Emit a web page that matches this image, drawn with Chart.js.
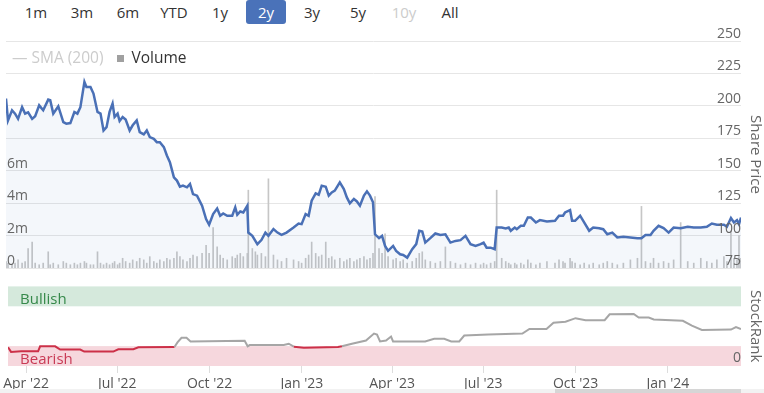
<!DOCTYPE html>
<html>
<head>
<meta charset="utf-8">
<script src="https://cdn.jsdelivr.net/npm/chart.js"></script>
<style>
  html, body { margin: 0; padding: 0; background: #fff; }
  body { width: 764px; height: 393px; position: relative; overflow: hidden; font-family: 'Open Sans', sans-serif; }
  #range { position: absolute; top: 0; left: 16px; display: flex; gap: 6px; }
  #range span { width: 40px; height: 24px; line-height: 24px; text-align: center; font-size: 15px; color: #333; border-radius: 3px; }
  #range span.on { background: #4a72b9; color: #fff; }
  #range span.off { color: #ccc; }
  #legend { position: absolute; top: 48px; left: 12px; font-size: 15.5px; line-height: 18px; white-space: nowrap; }
  #legend .sma { color: #ccc; }
  #legend .sq { display: inline-block; width: 7px; height: 7px; background: #a0a0a0; margin: 0 8px 0 13px; vertical-align: 1px; }
  #legend .vol { color: #333; }
  canvas { position: absolute; left: 0; }
  #priceChart { top: 28px; }
  #rankChart { top: 278px; }
  #scroll { position: absolute; left: 0; top: 389px; width: 764px; height: 4px; background: #f2f2f2; }
  #thumb { position: absolute; left: 555px; top: 389px; width: 186px; height: 4px; background: #d6d6d6; }
</style>
</head>
<body>
<div id="range">
  <span>1m</span><span>3m</span><span>6m</span><span>YTD</span><span>1y</span><span class="on">2y</span><span>3y</span><span>5y</span><span class="off">10y</span><span>All</span>
</div>
<canvas id="priceChart" width="764" height="250"></canvas>
<canvas id="rankChart" width="764" height="115"></canvas>
<div id="legend"><span class="sma">— SMA (200)</span><span class="sq"></span><span class="vol">Volume</span></div>
<div id="scroll"></div><div id="thumb"></div>
<script>
// days counted from the first day shown
const startDate = '2022-03-14';
const endDay = 731;

const tickDates = ['2022-04-01', '2022-07-01', '2022-10-01', '2023-01-01', '2023-04-01', '2023-07-01', '2023-10-01', '2024-01-01'];
const tickLabels = ["Apr '22", "Jul '22", "Oct '22", "Jan '23", "Apr '23", "Jul '23", "Oct '23", "Jan '24"];

const tradingDay = [0, 2, 6, 9, 12, 16, 19, 22, 26, 29, 33, 37, 42, 44, 47, 52, 57, 60, 64, 68,
  71, 74, 78, 80, 84, 87, 91, 94, 97, 100, 103, 106, 108, 111, 113, 116, 119, 123, 126, 130,
  133, 137, 140, 143, 147, 150, 153, 157, 160, 163, 167, 170, 173, 176, 180, 183, 186, 190, 195, 199,
  202, 206, 210, 213, 216, 220, 225, 228, 230, 233, 236, 240, 241, 245, 248, 250, 254, 258, 261, 266,
  270, 274, 279, 286, 291, 294, 298, 301, 304, 308, 311, 314, 318, 321, 324, 327, 332, 336, 339, 342,
  346, 349, 352, 356, 359, 362, 365, 367, 371, 374, 377, 380, 385, 388, 392, 395, 399, 404, 408, 411,
  414, 417, 422, 427, 432, 437, 442, 447, 452, 457, 462, 467, 472, 475, 478, 482, 486, 488, 493, 497,
  500, 502, 506, 508, 512, 515, 519, 522, 527, 531, 538, 546, 550, 554, 556, 561, 563, 566, 571, 575,
  580, 584, 590, 594, 598, 603, 608, 614, 621, 628, 632, 636, 641, 644, 649, 654, 659, 664, 671, 678,
  684, 691, 697, 702, 707, 714, 717, 721, 724, 727, 729, 731];

const sharePrice = [205.6, 188.8, 196.6, 194, 190, 199, 194, 195, 190, 192, 200.4, 196.6, 204.8, 204.3, 194, 199.7, 187.5, 186.3, 186.7, 195.3,
  194, 199, 218.5, 214.6, 214.6, 209.5, 195.3, 194, 181, 183.6, 195.3, 201.8, 191.4, 194, 188.3, 191.4, 189.4, 181, 185, 188.8,
  179.8, 178, 181, 175.9, 174.6, 172, 172, 168.2, 161.7, 156.6, 144.9, 142.4, 137.7, 138.5, 137.2, 139.8, 132, 130.8, 123, 112.7,
  108.3, 116.6, 120.9, 115.3, 117, 115.3, 115.3, 121.7, 116, 118.6, 117.8, 123, 102.3, 99.8, 95.9, 93.4, 96.5, 102.3, 99.8, 105,
  102.3, 100.5, 102.3, 106.2, 109.3, 108.8, 116.6, 115.3, 126.9, 132.5, 131.5, 138.5, 137.7, 130.8, 133.3, 134.6, 141, 135.9, 129.4, 124.8,
  128.2, 126.3, 123, 130.8, 134.1, 130.8, 125.6, 101, 98, 99.8, 92, 88.2, 92, 88.2, 85.6, 85, 83, 89.5, 93.4, 103.7,
  103.1, 94.6, 98, 101.6, 100.5, 101, 94.6, 95.9, 96.5, 99.8, 93.4, 92, 93.4, 94.6, 90.7, 90.7, 89.5, 106.2, 106.2, 105.5,
  106.2, 103.7, 106.2, 104.9, 107.5, 107.5, 113.9, 113.9, 110.1, 111.9, 110.9, 111.4, 115.3, 115.3, 117.8, 119.7, 111.4, 111.4, 115.3, 110.1,
  103.7, 106.2, 105.7, 104.9, 101, 102.3, 98.5, 99, 98.5, 98, 98, 100.5, 100.5, 103.7, 107.5, 105.7, 102.3, 106.2, 105.7, 106.8,
  106.2, 106.2, 106.8, 109.3, 108.3, 108.3, 106.8, 113.5, 110.1, 111.9, 108.8, 113.9];

// volume in millions
const volumeM = [0.4, 0.3, 0.2, 0.3, 0.5, 0.3, 0.4, 1.2, 1.6, 0.3,
  0.2, 0.3, 1.0, 0.2, 0.3, 0.2, 0.4, 0.3, 0.2, 0.3,
  0.2, 0.3, 0.4, 0.3, 0.2, 0.2, 1.0, 0.3, 0.2, 0.3,
  0.2, 0.3, 0.4, 0.2, 0.3, 0.6, 0.4, 0.3, 0.5, 0.4,
  0.6, 0.5, 0.3, 0.7, 0.4, 0.3, 0.5, 0.4, 0.6, 0.5,
  0.6, 1.0, 0.7, 0.5, 0.4, 0.6, 0.8, 0.7, 0.9, 1.4,
  0.9, 2.5, 1.3, 0.8, 0.6, 0.5, 0.7, 0.6, 0.8, 0.9,
  0.7, 0.9, 4.8, 1.2, 1.0, 0.8, 0.9, 0.7, 5.5, 0.8,
  0.5, 0.4, 0.6, 0.5, 0.4, 0.3, 0.6, 0.8, 1.6, 0.9,
  0.7, 0.8, 1.6, 0.6, 0.7, 0.5, 0.6, 0.4, 0.5, 0.6,
  0.4, 0.5, 0.6, 0.7, 0.5, 0.6, 0.9, 4.4, 1.2, 0.9,
  2.1, 0.7, 0.5, 0.6, 0.4, 0.5, 0.3, 0.4, 0.6, 0.9,
  1.0, 0.5, 0.4, 0.3, 0.4, 1.3, 0.4, 0.3, 0.2, 0.3,
  0.2, 0.3, 0.2, 0.3, 0.2, 0.3, 0.4, 4.8, 0.6, 0.4,
  0.3, 0.2, 0.3, 0.2, 0.3, 0.2, 0.5, 0.3, 0.2, 0.3,
  0.4, 0.3, 0.5, 0.4, 0.3, 0.6, 0.4, 0.3, 0.2, 0.3,
  0.2, 0.3, 0.2, 0.3, 0.4, 0.3, 0.2, 0.3, 0.5, 0.6,
  3.8, 0.4, 0.3, 0.6, 0.3, 0.4, 0.3, 0.5, 2.8, 0.4,
  0.3, 0.6, 0.4, 0.3, 0.5, 0.7, 0.4, 2.3, 0.6, 0.5,
  2.0, 0.6];

const rankDay = [0, 3, 13, 30, 32, 47, 52, 72, 76, 105, 110, 125, 130, 166, 169, 173, 178, 182, 236, 239,
  241, 275, 280, 285, 295, 329, 333, 343, 357, 365, 368, 371, 377, 382, 384, 416, 425, 435, 442, 450,
  455, 479, 513, 520, 537, 544, 556, 566, 576, 595, 600, 624, 629, 639, 644, 673, 682, 692, 721, 726, 731];
const stockRank = [23.5, 17.7, 18.5, 18.5, 24.7, 24.7, 20.6, 20.6, 18.1, 18.1, 21, 21, 23.5, 23.8, 29.6, 35.4, 35.4, 30.9, 31.7, 24.7,
  26.3, 26.3, 28, 24.3, 23, 23.8, 24.7, 28, 32, 40.7, 39.5, 30.9, 32, 37, 30.9, 30.9, 34.2, 34.2, 30.9, 30.9,
  38.3, 39.5, 40.7, 46.5, 46.5, 54.3, 55.6, 60.1, 57.6, 57.6, 65, 65.4, 60.9, 60.9, 58.4, 56.8, 50.6, 45.3, 45.7, 49, 46.5];

const bearishTop = 25;
const bullishBottom = 75;

const dayMs = 86400000;
const tickDays = tickDates.map(d => Math.round((Date.parse(d) - Date.parse(startDate)) / dayMs));

Chart.defaults.font.family = "'Open Sans', sans-serif";
Chart.defaults.font.size = 14;
Chart.defaults.color = '#666';

const priceBlue = '#4a70b6';
const axisText = '#666';

new Chart(document.getElementById('priceChart'), {
  type: 'line',
  data: {
    datasets: [
      {
        type: 'line',
        data: tradingDay.map((d, i) => ({ x: d, y: sharePrice[i] })),
        yAxisID: 'price',
        borderColor: priceBlue,
        borderWidth: 2.5,
        backgroundColor: 'rgba(74, 112, 182, 0.06)',
        fill: 'start',
        pointRadius: 0,
        tension: 0,
        order: 0
      },
      {
        type: 'bar',
        data: tradingDay.map((d, i) => ({ x: d, y: volumeM[i] })),
        yAxisID: 'vol',
        backgroundColor: '#c6c6c6',
        barThickness: 1,
        grouped: false,
        order: 1
      }
    ]
  },
  options: {
    responsive: false,
    animation: false,
    devicePixelRatio: 1,
    layout: { padding: { left: 6, top: 13, bottom: 10, right: 0 } },
    plugins: { legend: { display: false }, tooltip: { enabled: false } },
    scales: {
      x: { type: 'linear', min: 0, max: endDay, offset: false, display: false },
      vol: {
        position: 'left',
        min: 0,
        max: 14,
        grid: { display: false },
        border: { display: false },
        ticks: {
          z: 1,
          stepSize: 2,
          mirror: true,
          padding: 1,
          labelOffset: -7,
          color: axisText,
          callback: v => v > 6 ? '' : (v === 0 ? '0' : v + 'm')
        },
        afterFit: s => { s.width = 0; }
      },
      price: {
        position: 'right',
        min: 75,
        max: 250,
        grid: { color: '#e6e6e6', drawTicks: false },
        border: { display: false },
        ticks: { z: 1, stepSize: 25, mirror: true, padding: 0, labelOffset: -7, color: axisText },
        title: { display: true, text: 'Share Price', color: axisText, font: { size: 15 }, padding: { top: 0, bottom: 0 } },
        afterFit: s => { s.width = 23; }
      }
    }
  }
});

const rankBands = {
  id: 'rankBands',
  beforeDatasetsDraw(chart) {
    const { ctx, chartArea: a, scales: { rank } } = chart;
    const yBullTop = rank.getPixelForValue(100);
    const yBullBot = rank.getPixelForValue(bullishBottom);
    const yBearTop = rank.getPixelForValue(bearishTop);
    const yBearBot = rank.getPixelForValue(0);
    ctx.save();
    ctx.fillStyle = '#d5e9dc';
    ctx.fillRect(a.left, yBullTop, a.right - a.left, yBullBot - yBullTop);
    ctx.fillStyle = '#f6d7dd';
    ctx.fillRect(a.left, yBearTop, a.right - a.left, yBearBot - yBearTop);
    ctx.font = "15px 'Open Sans', sans-serif";
    ctx.textBaseline = 'middle';
    ctx.fillStyle = '#36894a';
    ctx.fillText('Bullish', a.left + 12, (yBullTop + yBullBot) / 2 + 3);
    ctx.fillStyle = '#c93a55';
    ctx.fillText('Bearish', a.left + 12, (yBearTop + yBearBot) / 2 + 4);
    ctx.restore();
  }
};

const isBearish = v => v < bearishTop;

new Chart(document.getElementById('rankChart'), {
  type: 'line',
  data: {
    datasets: [{
      data: rankDay.map((d, i) => ({ x: d, y: stockRank[i] })),
      yAxisID: 'rank',
      borderColor: '#a6a6a6',
      borderWidth: 2,
      pointRadius: 0,
      tension: 0,
      segment: {
        borderColor: c => (isBearish(c.p0.parsed.y) && isBearish(c.p1.parsed.y)) ? '#cc3048' : '#a6a6a6'
      }
    }]
  },
  options: {
    responsive: false,
    animation: false,
    devicePixelRatio: 1,
    layout: { padding: { left: 6, top: 7, bottom: 0, right: 0 } },
    plugins: { legend: { display: false }, tooltip: { enabled: false } },
    scales: {
      x: {
        type: 'linear',
        min: 0,
        max: endDay,
        offset: false,
        grid: { drawOnChartArea: false, drawTicks: true, tickLength: 7, color: '#dddddd' },
        border: { display: false },
        ticks: { autoSkip: false, maxRotation: 0, padding: 3, color: '#555', callback: (v, i) => tickLabels[i] },
        afterBuildTicks: s => { s.ticks = tickDays.map(v => ({ value: v })); },
        afterFit: s => { s.height = 27; }
      },
      rank: {
        position: 'right',
        min: 0,
        max: 100,
        grid: { display: false },
        border: { display: false },
        ticks: { z: 1, mirror: true, padding: 0, labelOffset: -8, color: axisText },
        afterBuildTicks: s => { s.ticks = [{ value: 0 }]; },
        title: { display: true, text: 'StockRank', color: axisText, font: { size: 15 }, padding: { top: 0, bottom: 0 } },
        afterFit: s => { s.width = 23; }
      }
    }
  },
  plugins: [rankBands]
});
</script>
</body>
</html>
